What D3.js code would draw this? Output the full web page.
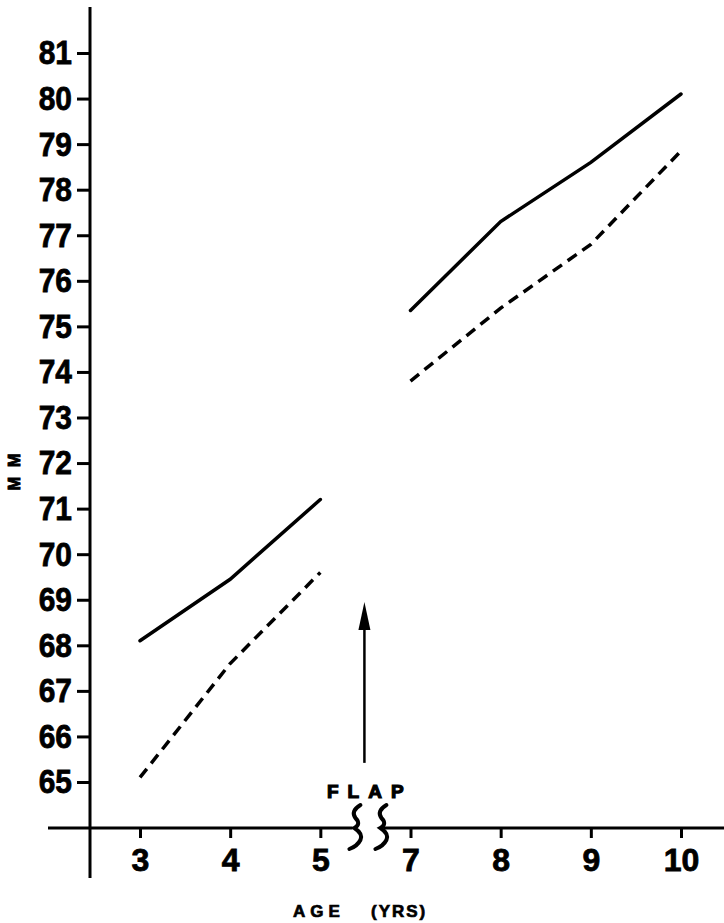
<!DOCTYPE html>
<meta charset="utf-8">
<script src="https://d3js.org/d3.v7.min.js"></script>
<style>
  body { margin: 0; background: #fff; }
  text { font-family: "Liberation Sans", Arial, sans-serif; font-weight: bold; fill: #000; }
</style>
<div id="chart"></div>
<script>
    // ages along the x axis (6 is skipped: the flap break)
    var ages = [3, 4, 5, 7, 8, 9, 10];
    var yTicks = [65, 66, 67, 68, 69, 70, 71, 72, 73, 74, 75, 76, 77, 78, 79, 80, 81];

    // before flap (3-5) and after flap (7-10)
    var solidBefore = [68.1, 69.45, 71.2];
    var dashedBefore = [65.1, 67.6, 69.6];
    var solidAfter = [75.35, 77.3, 78.6, 80.1];
    var dashedAfter = [73.8, 75.4, 76.8, 78.85];

    var width = 724, height = 923;

    var svg = d3.select("#chart")
        .append("svg")
            .attr("width", width)
            .attr("height", height);

    var x = d3.scalePoint().domain(ages).range([140, 681]);
    var y = d3.scaleLinear().domain([65, 81]).range([782, 53]);

    var axisY = 828, axisX = 90;
    var squeeze = 0.88;

    // y axis
    svg.append("g")
        .attr("transform", "translate(" + axisX + ",0)")
        .call(d3.axisLeft(y).tickValues(yTicks).tickSize(13).tickPadding(5).tickFormat(d3.format("d")))
        .call(function(g) { g.select(".domain").remove(); })
        .call(function(g) {
            g.selectAll(".tick line").attr("stroke", "#000").attr("stroke-width", 3);
            g.selectAll(".tick text")
                .style("font-size", "34px")
                .attr("fill", "#000")
                .attr("stroke", "#000").attr("stroke-width", 0.8)
                .attr("x", -18 / squeeze)
                .attr("transform", "scale(" + squeeze + ",1)");
        });

    svg.append("line")
        .attr("x1", axisX).attr("x2", axisX)
        .attr("y1", 7).attr("y2", 878)
        .attr("stroke", "#000").attr("stroke-width", 3);

    // x axis
    svg.append("g")
        .attr("transform", "translate(0," + axisY + ")")
        .call(d3.axisBottom(x).tickSize(10).tickPadding(10))
        .call(function(g) { g.select(".domain").remove(); })
        .call(function(g) {
            g.selectAll(".tick line").attr("stroke", "#000").attr("stroke-width", 3);
            g.selectAll(".tick text")
                .style("font-size", "32px")
                .attr("fill", "#000")
                .attr("stroke", "#000").attr("stroke-width", 0.8);
        });

    var mid = (x(5) + x(7)) / 2;
    var brk1 = mid - 10, brk2 = mid + 16;

    svg.append("line")
        .attr("x1", 48).attr("x2", brk1 - 3)
        .attr("y1", axisY).attr("y2", axisY)
        .attr("stroke", "#000").attr("stroke-width", 3);
    svg.append("line")
        .attr("x1", brk2 + 2).attr("x2", width)
        .attr("y1", axisY).attr("y2", axisY)
        .attr("stroke", "#000").attr("stroke-width", 3);

    // break squiggles
    [brk1, brk2].forEach(function(cx) {
        svg.append("path")
            .attr("transform", "translate(" + cx + "," + axisY + ")")
            .attr("d", "M5,-23 Q-5,-17 0,-10 Q6,-4 -1,0 Q8,6 5,12 Q2,18 -6,21")
            .attr("fill", "none")
            .attr("stroke", "#000")
            .attr("stroke-width", 4)
            .attr("stroke-linecap", "round");
    });

    // data lines
    var line = d3.line()
        .x(function(d) { return x(d.age); })
        .y(function(d) { return y(d.v); });

    function pts(agesPart, vals) {
        return vals.map(function(v, i) { return {age: agesPart[i], v: v}; });
    }

    var series = [
        {data: pts(ages.slice(0, 3), solidBefore), dash: null},
        {data: pts(ages.slice(0, 3), dashedBefore), dash: "11,7"},
        {data: pts(ages.slice(3), solidAfter), dash: null},
        {data: pts(ages.slice(3), dashedAfter), dash: "11,7"}
    ];

    series.forEach(function(s) {
        svg.append("path")
            .datum(s.data)
            .attr("d", line)
            .attr("fill", "none")
            .attr("stroke", "#000")
            .attr("stroke-width", 3.5)
            .attr("stroke-linecap", s.dash ? "butt" : "round")
            .attr("stroke-dasharray", s.dash);
    });

    // flap arrow
    var arrowX = mid - 1;
    svg.append("line")
        .attr("x1", arrowX).attr("x2", arrowX)
        .attr("y1", y(65.42)).attr("y2", y(68.4))
        .attr("stroke", "#000").attr("stroke-width", 2.5);
    svg.append("path")
        .attr("d", "M" + arrowX + "," + y(68.95) + " L" + (arrowX - 6) + "," + (y(68.95) + 28) +
              " L" + (arrowX + 6) + "," + (y(68.95) + 28) + " Z")
        .attr("fill", "#000");

    svg.append("text")
        .attr("x", 327).attr("y", 798)
        .style("font-size", "19px")
        .style("letter-spacing", "9px")
        .attr("stroke", "#000").attr("stroke-width", 1.2)
        .text("FLAP");

    // axis titles
    svg.append("text")
        .attr("x", 293).attr("y", 917)
        .style("font-size", "17px")
        .style("letter-spacing", "5px")
        .attr("stroke", "#000").attr("stroke-width", 0.7)
        .text("AGE");
    svg.append("text")
        .attr("x", 371).attr("y", 917)
        .style("font-size", "17px")
        .style("letter-spacing", "2px")
        .attr("stroke", "#000").attr("stroke-width", 0.7)
        .text("(YRS)");

    svg.append("text")
        .attr("transform", "translate(20,467) rotate(-90)")
        .attr("text-anchor", "middle")
        .style("font-size", "16px")
        .style("letter-spacing", "10px")
        .attr("stroke", "#000").attr("stroke-width", 1)
        .text("MM");
</script>
